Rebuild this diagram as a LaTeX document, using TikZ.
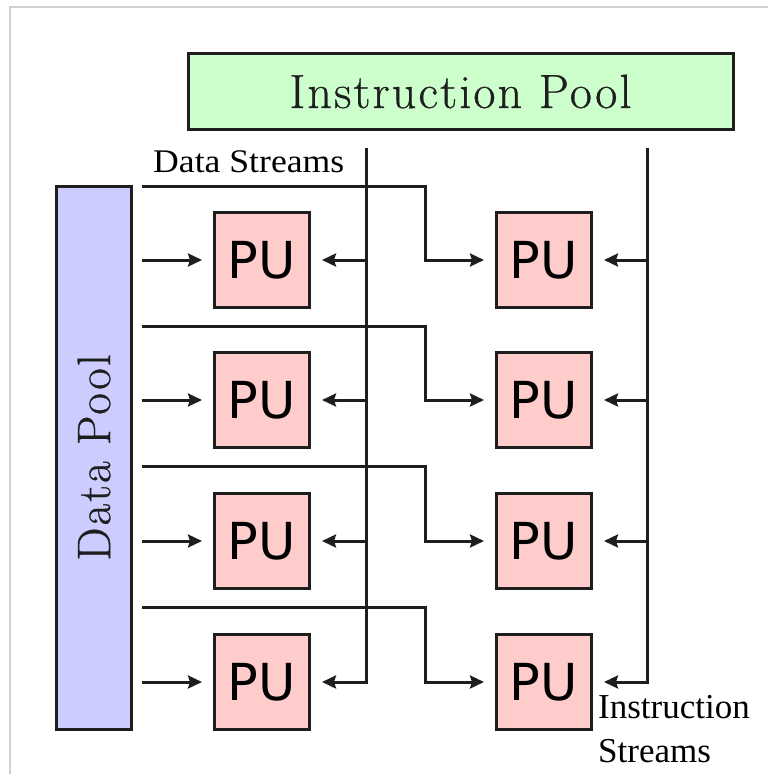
\documentclass[tikz,border=0pt]{standalone}
\usepackage{fontspec}
\usetikzlibrary{arrows.meta,calc}
\newfontfamily\tnrfont{Liberation Serif}
\newfontfamily\pufont{DejaVu Sans}
\newfontfamily\poolfont{Latin Modern Roman}[LetterSpace=4.5,FakeBold=0.6]
\definecolor{poolgreen}{HTML}{CCFFCC}
\definecolor{poolblue}{HTML}{CCCCFF}
\definecolor{pupink}{HTML}{FFCCCC}
\definecolor{ink}{HTML}{1E1E1E}
\tikzset{
  pubox/.style={draw=ink, line width=3pt, fill=pupink, minimum width=95pt, minimum height=95pt,
    inner sep=0pt, font=\pufont\fontsize{51}{56}\selectfont},
  wire/.style={draw=ink, line width=3pt},
  arr/.style={wire, -{Stealth[length=14pt,width=13pt,inset=2pt]}, shorten >=11pt},
  frameline/.style={draw=black!18, line width=1.5pt}
}
\begin{document}
\begin{tikzpicture}[x=1pt,y=-1pt]
\useasboundingbox (0,0) rectangle (768,774);
% thin frame on the top and left
\draw[frameline] (10,774) -- (10,7) -- (768,7);

% pools
\node[draw=ink, line width=3pt, fill=poolgreen, minimum width=545pt, minimum height=76pt, inner sep=0pt,
      text=ink, font=\poolfont\fontsize{48}{56}\selectfont] (ipool) at (460.5,91.5) {Instruction Pool};
\node[draw=ink, line width=3pt, fill=poolblue, minimum width=543pt, minimum height=75pt, inner sep=0pt,
      text=ink, rotate=90, font=\poolfont\fontsize{47}{52}\selectfont] (dpool) at (94,457.5) {Data Pool};

% processing units
\foreach \r/\y in {1/260,2/400,3/541,4/682}{
  \node[pubox] (pua\r) at (262,\y) {PU};
  \node[pubox] (pub\r) at (544,\y) {PU};
}

% labels
\node[anchor=base west, inner sep=0pt, xscale=1.08, font=\tnrfont\fontsize{33}{38}\selectfont]
  (dslabel) at (153,172) {Data Streams};
\node[anchor=base west, inner sep=0pt, font=\tnrfont\fontsize{35}{40}\selectfont]
  (islabel1) at (598,718) {Instruction};
\node[anchor=base west, inner sep=0pt, font=\tnrfont\fontsize{35}{40}\selectfont]
  (islabel2) at (598,762) {Streams};

% data streams: direct feed to the first column, stepped feed to the second
\foreach \r/\ly/\y in {1/186/260,2/326/400,3/466/541,4/607/682}{
  \coordinate (ds\r) at (142,\y);
  \coordinate (dl\r) at (142,\ly);
  \coordinate (dk\r) at (425,\ly);
  \draw[arr] (ds\r) -- (pua\r.west);
  \draw[arr] (dl\r) -- (dk\r) |- (pub\r.west);
}

% instruction streams
\coordinate (ita) at (366,148);
\coordinate (itb) at (647,148);
\draw[arr] (ita) |- (pua4.east);
\draw[arr] (itb) |- (pub4.east);
\foreach \r in {1,2,3}{
  \draw[arr] (pua\r.east -| ita) -- (pua\r.east);
  \draw[arr] (pub\r.east -| itb) -- (pub\r.east);
}
\end{tikzpicture}
\end{document}
